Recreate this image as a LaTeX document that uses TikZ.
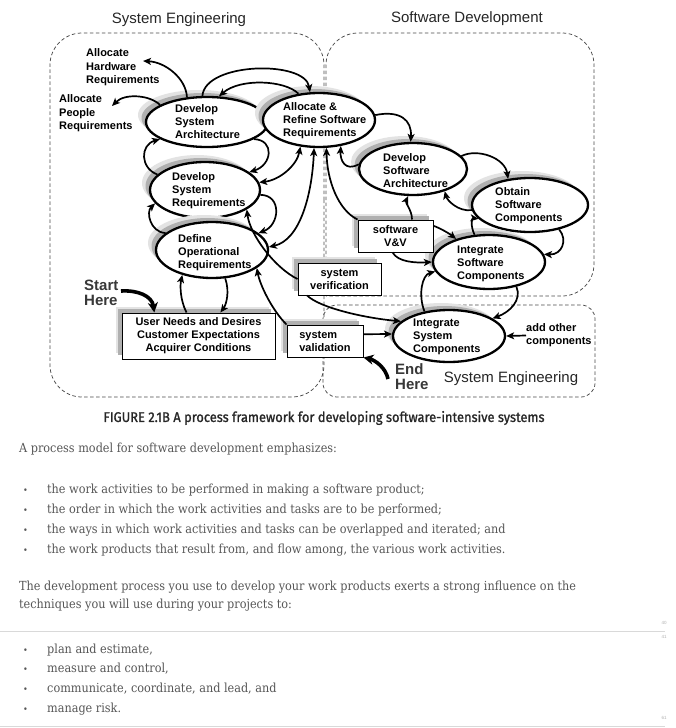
\documentclass[tikz,border=0pt]{standalone}
\usepackage{fontspec}
\setmainfont{Liberation Sans}
\newfontfamily\capfont[FakeStretch=0.92,FakeBold=1.2]{Fira Sans}
\newfontfamily\bodyfont[FakeStretch=0.90]{DejaVu Serif}
\usetikzlibrary{arrows.meta,shapes.geometric}
\begin{document}
\begin{tikzpicture}[x=1pt,y=-1pt,
  dsh/.style={dash pattern=on 3.5pt off 2.5pt, line width=0.75pt, draw=black!70},
  ell/.style={ellipse, draw=black, line width=2.3pt, fill=white, inner sep=0pt,
     preaction={fill=gray!22, draw=none, transform canvas={shift={(-8,-7)}}},
     preaction={fill=gray!62, draw=none, transform canvas={shift={(-4.5,-4)}}}},
  bx/.style={rectangle, draw=black, line width=1pt, fill=white, align=center, inner sep=0pt,
     font=\bfseries\fontsize{11}{13}\selectfont,
     preaction={fill=gray!22, draw=none, transform canvas={shift={(-6.5,-6.5)}}},
     preaction={fill=gray!62, draw=none, transform canvas={shift={(-4,-4)}}}},
  etext/.style={font=\bfseries\fontsize{11}{13}\selectfont, align=left, inner sep=0pt, anchor=west},
  lbl/.style={font=\bfseries\fontsize{11}{13.5}\selectfont, align=left, inner sep=0pt, anchor=north west},
  big/.style={font=\bfseries\fontsize{15}{15}\selectfont, align=left, inner sep=0pt, anchor=north west, text=black!78},
  ttl/.style={font=\fontsize{15}{18}\selectfont, inner sep=0pt, text=black!85},
  arr/.style={line width=1.7pt, -{Stealth[length=8pt,width=7pt,inset=2pt]}},
  darr/.style={line width=1.7pt, {Stealth[length=8pt,width=7pt,inset=2pt]}-{Stealth[length=8pt,width=7pt,inset=2pt]}},
  tarr/.style={line width=3.6pt, -{Stealth[length=10pt,width=10pt,inset=3pt]}},
  body/.style={font=\bodyfont\fontsize{12.5}{15}\selectfont, text=black!66, inner sep=0pt, anchor=base west},
  bul/.style={font=\bodyfont\fontsize{9}{10}\selectfont, text=black!66, inner sep=0pt, anchor=base west},
]
\fill[white] (0,0) rectangle (675,728);
\useasboundingbox (0,0) rectangle (675,728);

% titles
\node[ttl] (tse) at (179,20) {System Engineering};
\node[ttl] (tsd) at (467,19) {Software Development};

% regions
\draw[dsh, rounded corners=32] (324,200) -- (324,33) -- (50,33) -- (50,397) -- (324,397) -- (324,200);
\draw[dsh, rounded corners=32] (326,296) -- (326,33) -- (594,33) -- (594,296) -- (326,296);
\draw[dsh, rounded corners=14] (323,305) rectangle (595,397);
\node[ttl] (tse2) at (511,379) {System Engineering};

% ellipses
\node[ell, minimum width=122, minimum height=50] (dsa) at (207,122) {};
\node[ell, minimum width=112, minimum height=54] (ar) at (319,120) {};
\node[ell, minimum width=110, minimum height=56] (dsr) at (205,190) {};
\node[ell, minimum width=112, minimum height=56] (dor) at (212,250) {};
\node[ell, minimum width=108, minimum height=52] (dswa) at (413,169) {};
\node[ell, minimum width=116, minimum height=54] (osc) at (530,205) {};
\node[ell, minimum width=112, minimum height=54] (iswc) at (489,262) {};
\node[ell, minimum width=112, minimum height=52] (isc) at (449,336) {};

\node[etext] (t1) at (175,122) {Develop\\System\\Architecture};
\node[etext] (t2) at (283,121) {Allocate \&\\Refine Software\\Requirements};
\node[etext] (t3) at (172,190.5) {Develop\\System\\Requirements};
\node[etext] (t4) at (178,253) {Define\\Operational\\Requirements};
\node[etext] (t5) at (383,171) {Develop\\Software\\Architecture};
\node[etext] (t6) at (495,206) {Obtain\\Software\\Components};
\node[etext] (t7) at (457,264) {Integrate\\Software\\Components};
\node[etext] (t8) at (413,337) {Integrate\\System\\Components};

% boxes
\node[bx, minimum width=75, minimum height=32] (vv) at (395.5,236) {software\\V\&V};
\node[bx, minimum width=83, minimum height=32] (sver) at (339.5,279) {system\\verification};
\node[bx, minimum width=76, minimum height=32, align=left] (sval) at (325,341) {system\\validation};
\node[bx, minimum width=153, minimum height=46] (un) at (198.5,336) {User Needs and Desires\\Customer Expectations\\Acquirer Conditions};

% free labels
\node[lbl] (hw) at (86,48.5) {Allocate\\Hardware\\Requirements};
\node[lbl] (pp) at (59,94.5) {Allocate\\People\\Requirements};
\node[big] (start) at (84,279.5) {Start\\Here};
\node[big] (endh) at (395,363.5) {End\\Here};
\node[etext] (add) at (526,335.5) {add other\\components};

\coordinate (hwt) at (143,61);
\coordinate (ppt) at (112,106);
\coordinate (st) at (121,291);
\coordinate (en) at (388,379);

% connectors
\draw[arr] (dsa.129) .. controls (186,78) and (165,62) .. (hwt);
\draw[arr] (dsa.160) .. controls (150,95) and (125,93) .. (ppt);
\draw[arr] (dsa.100) .. controls (205,62) and (305,60) .. (ar.108);
\draw[arr] (ar.128) .. controls (285,80) and (240,78) .. (dsa.65);
\draw[arr] (dsr.162) .. controls (140,168) and (140,145) .. (dsa.-160);
\draw[arr] (dsa.-20) .. controls (275,140) and (272,165) .. (dsr.22);
\draw[arr] (dor.160) .. controls (150,232) and (146,212) .. (dsr.-165);
\draw[arr] (dsr.-5) .. controls (282,195) and (280,225) .. (dor.20);
\draw[darr] (ar.-125) .. controls (297,165) and (280,180) .. (dsr.8);
\draw[darr] (ar.-100) .. controls (312,195) and (300,240) .. (dor.3);
\draw[arr] (vv.north west) .. controls (338,210) and (327,180) .. (ar.-75);
\draw[arr] (dswa.175) .. controls (345,172) and (340,160) .. (ar.-50);
\draw[arr] (ar.5) .. controls (400,110) and (412,120) .. (dswa.95);
\draw[arr] (vv.45) .. controls (412,210) and (405,203) .. (dswa.-100);
\draw[arr] (vv.15) .. controls (440,228) and (450,234) .. (iswc.145);
\draw[arr] (vv.-100) .. controls (398,262) and (415,263) .. (iswc.180);
\draw[arr] (sver.west) .. controls (275,268) and (250,235) .. (dsr.-25);
\draw[arr] (sval.north west) .. controls (272,310) and (260,285) .. (dor.-22);
\draw[arr] (sver.-153) .. controls (320,308) and (365,318) .. (isc.163);
\draw[arr] (sval.10) -- (isc.178);
\draw[tarr] (en) .. controls (386,368) and (375,360) .. (sval.south east);
\draw[tarr] (st) .. controls (138,290) and (152,296) .. (un.152);
\draw[arr] (un.117) .. controls (180,300) and (180,285) .. (dor.-140);
\draw[arr] (dor.-65) .. controls (230,292) and (226,305) .. (un.47);
\draw[arr] (isc.135) .. controls (418,295) and (422,275) .. (iswc.190);
\draw[arr] (iswc.-42) .. controls (522,300) and (510,312) .. (isc.22);
\draw[arr] (add.west) -- (isc.east);
\draw[arr] (dswa.15) .. controls (478,148) and (505,158) .. (osc.130);
\draw[arr] (osc.185) .. controls (458,212) and (447,200) .. (dswa.-35);
\draw[arr] (iswc.118) .. controls (470,225) and (472,218) .. (osc.-165);
\draw[arr] (osc.-40) .. controls (568,240) and (562,255) .. (iswc.8);

% caption and text
\node[font=\capfont\fontsize{14}{16}\selectfont, text=black!85, inner sep=0pt] (cap) at (324,418) {FIGURE 2.1B A process framework for developing software-intensive systems};
\node[body] (p1) at (19,452) {A process model for software development emphasizes:};
\node[bul] (u1) at (23,493) {•};
\node[body] (b1) at (47,493) {the work activities to be performed in making a software product;};
\node[bul] (u2) at (23,513) {•};
\node[body] (b2) at (47,513) {the order in which the work activities and tasks are to be performed;};
\node[bul] (u3) at (23,533) {•};
\node[body] (b3) at (47,533) {the ways in which work activities and tasks can be overlapped and iterated; and};
\node[bul] (u4) at (23,553) {•};
\node[body] (b4) at (47,553) {the work products that result from, and flow among, the various work activities.};
\node[body] (p2) at (19,590) {The development process you use to develop your work products exerts a strong influence on the};
\node[body] (p3) at (19,608) {techniques you will use during your projects to:};
\draw[gray!30, line width=0.8pt] (0,631) -- (665,631);
\node[font=\fontsize{4.5}{5}\selectfont, text=gray!60, inner sep=0pt] (n40) at (664,623) {40};
\node[font=\fontsize{4.5}{5}\selectfont, text=gray!60, inner sep=0pt] (n41) at (664,637) {41};
\node[bul] (v1) at (23,653) {•};
\node[body] (c1) at (47,653) {plan and estimate,};
\node[bul] (v2) at (23,672) {•};
\node[body] (c2) at (47,672) {measure and control,};
\node[bul] (v3) at (23,692) {•};
\node[body] (c3) at (47,692) {communicate, coordinate, and lead, and};
\node[bul] (v4) at (23,712) {•};
\node[body] (c4) at (47,712) {manage risk.};
\node[font=\fontsize{4.5}{5}\selectfont, text=gray!60, inner sep=0pt] (n61) at (664,718) {61};
\draw[gray!30, line width=0.8pt] (0,726) -- (665,726);
\end{tikzpicture}
\end{document}
